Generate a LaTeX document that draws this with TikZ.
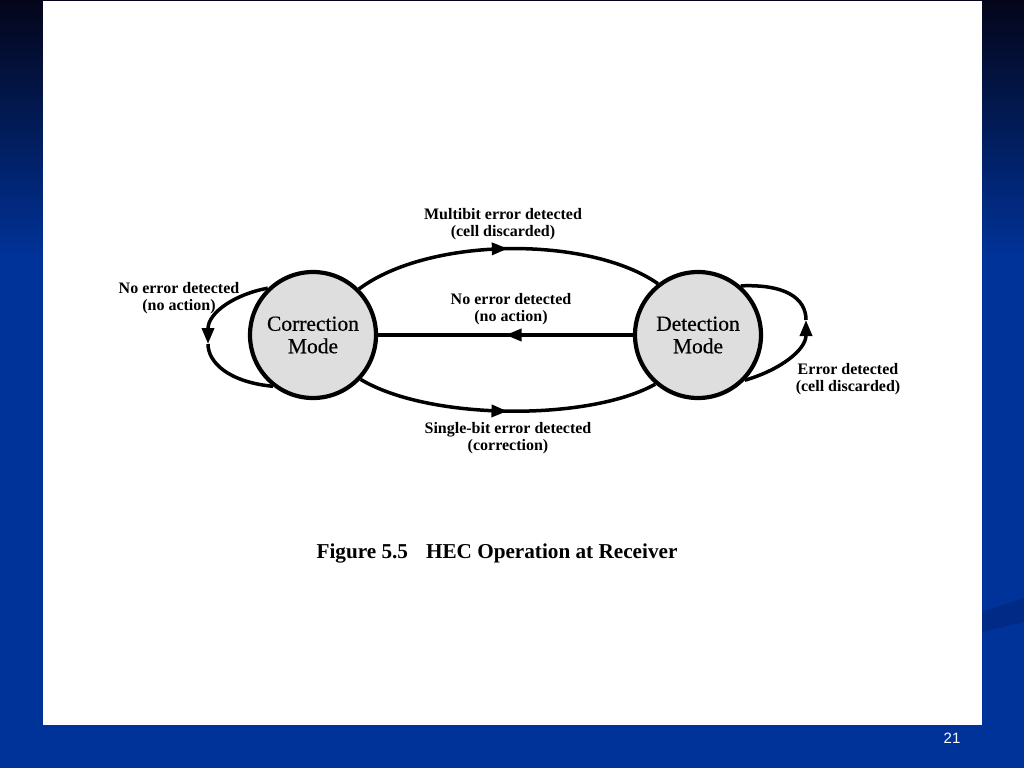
\documentclass[tikz,border=0pt]{standalone}
\usepackage{fontspec}
\setmainfont{Liberation Serif}
\newfontfamily\numfont{Liberation Sans}
\newfontfamily\heavyserif[FakeBold=0.5]{Liberation Serif}
\usetikzlibrary{arrows.meta,decorations.markings}
\definecolor{bgblue}{HTML}{00339A}
\definecolor{bgdark}{HTML}{04051A}
\definecolor{bgmid}{HTML}{0A2470}
\definecolor{swoosh}{HTML}{002A85}
\definecolor{circfill}{HTML}{DEDEDE}
\tikzset{
  state/.style={circle,draw=black,line width=4.2pt,fill=circfill,minimum size=126pt,inner sep=0pt,align=center,
    font=\heavyserif\fontsize{21.5}{22.5}\selectfont},
  edge/.style={line width=3.5pt,draw=black},
  midarrow/.style={postaction={decorate},decoration={markings,mark=at position #1 with {\arrow{Triangle[length=16pt,width=12pt]}}}},
  tip/.style={-{Triangle[length=16pt,width=12pt]}},
  lbl/.style={align=center,font=\fontsize{16}{16.5}\selectfont\bfseries},
}
\begin{document}
\begin{tikzpicture}[x=1pt,y=-1pt]
\useasboundingbox (0,0) rectangle (1024,768);
% background
\fill[bgblue] (0,0) rectangle (1024,768);
\shade[top color=bgdark,middle color=bgmid,bottom color=bgblue] (0,0) rectangle (1024,260);
\fill[swoosh] (982,612) -- (1024,598) -- (1024,622) -- (982,632) -- cycle;
\fill[white] (43,1) rectangle (982,725);
\node[text=white,font=\numfont\fontsize{15}{16}\selectfont] (pg) at (952,738) {21};

% states
\node[state] (corr) at (313,335) {Correction\\Mode};
\node[state] (det) at (698,335) {Detection\\Mode};

% top arc
\draw[edge,midarrow=0.5] (corr.45) .. controls (430,236) and (590,236) .. (det.128);
% middle line
\draw[edge,midarrow=0.5] (det.west) -- (corr.east);
% bottom arc
\draw[edge,midarrow=0.5] (corr.-43) .. controls (430,421) and (590,421) .. (det.229);

% left loop
\coordinate (lt) at (208,344);
\draw[edge,tip] (corr.134) .. controls (236,294) and (208,312) .. (lt);
\draw[edge] (lt) .. controls (208,362) and (228,382) .. (corr.232);
% right loop
\coordinate (rt) at (806,320);
\draw[edge,tip] (det.-44) .. controls (780,370) and (806,350) .. (rt);
\draw[edge] (rt) .. controls (806,298) and (785,284) .. (det.49);

% labels
\node[lbl] (l1) at (503,224) {Multibit error detected\\(cell discarded)};
\node[lbl] (l2) at (511,309) {No error detected\\(no action)};
\node[lbl] (l3) at (508,438) {Single-bit error detected\\(correction)};
\node[lbl] (l4) at (179,298) {No error detected\\(no action)};
\node[lbl] (l5) at (848,379) {Error detected\\(cell discarded)};

% caption
\node[font=\fontsize{21.2}{24}\selectfont\bfseries] (cap) at (497,553) {Figure 5.5\hspace{18pt}HEC Operation at Receiver};
\end{tikzpicture}
\end{document}
